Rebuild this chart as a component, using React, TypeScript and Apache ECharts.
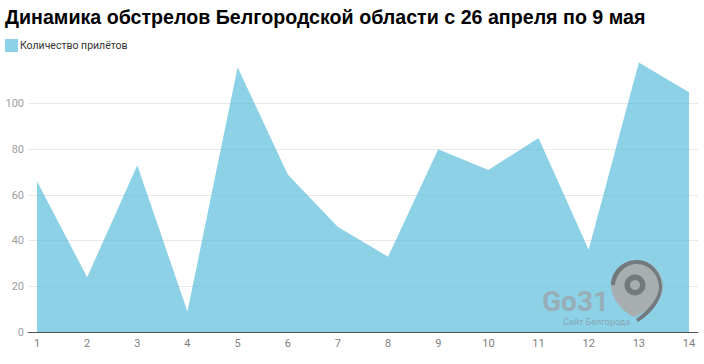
import React, { useEffect, useRef } from "react";
import * as echarts from "echarts";

const titleText = "Динамика обстрелов Белгородской области с 26 апреля по 9 мая";
const seriesName = "Количество прилётов";
const days = ["1", "2", "3", "4", "5", "6", "7", "8", "9", "10", "11", "12", "13", "14"];
const strikes = [66, 24, 73, 9, 116, 69, 46, 33, 80, 71, 85, 36, 118, 105];
const watermarkMain = "Go31";
const watermarkSub = "Сайт Белгорода";

const pinBody =
  "M 26 0 C 40 0 52 12 52 27 C 52 37 44 46 24 57 C 14 54 0 40 0 25 C 0 11 12 0 26 0 Z";
const pinArc =
  "M 0 25 C 0 11 12 0 26 0 C 40 0 51 13 51 27 C 51 38 43 52 27 62 L 25 59 C 39 49 48 37 48 27 C 48 15 38 4 26 4 C 14 4 5 14 4 25 Z";

export default function App() {
  const ref = useRef<HTMLDivElement>(null);
  useEffect(() => {
    echarts.graphic.registerShape("pinBody", (echarts.graphic as any).extendPath(pinBody, {}));
    echarts.graphic.registerShape("pinArc", (echarts.graphic as any).extendPath(pinArc, {}));
    const chart = echarts.init(ref.current!, null, { renderer: "svg" });
    chart.setOption({
      animation: false,
      backgroundColor: "#ffffff",
      title: {
        text: titleText,
        left: 0,
        top: 2,
        textStyle: { fontFamily: "Liberation Sans", fontWeight: "bold", fontSize: 19.65, color: "#000000" },
      },
      legend: {
        left: 5,
        top: 39,
        padding: 0,
        itemWidth: 13,
        itemHeight: 13,
        itemGap: 4,
        data: [{ name: seriesName, icon: "rect", itemStyle: { color: "#8CD1E8" } }],
        textStyle: { fontFamily: "Roboto", fontSize: 10.5, color: "#333333", padding: [0, 0, 0, -3] },
      },
      grid: [
        { left: 37, right: 15, top: 58, bottom: 32 },
        { left: 28, right: 6, top: 58, bottom: 32 },
      ],
      xAxis: [
        {
          type: "category",
          gridIndex: 0,
          data: days,
          boundaryGap: false,
          axisLine: { show: false },
          axisTick: { show: false },
          axisLabel: { color: "#808080", fontFamily: "Roboto", fontSize: 11, margin: 6, interval: 0 },
        },
        {
          type: "category",
          gridIndex: 1,
          data: days,
          z: 5,
          axisLine: { lineStyle: { color: "#555555", width: 1 } },
          axisTick: { show: false },
          axisLabel: { show: false },
        },
      ],
      yAxis: [
        {
          type: "value",
          gridIndex: 0,
          min: 0,
          max: 120,
          interval: 20,
          axisLine: { show: false },
          axisTick: { show: false },
          axisLabel: { show: false },
          splitLine: { show: false },
        },
        {
          type: "value",
          gridIndex: 1,
          min: 0,
          max: 120,
          interval: 20,
          axisLine: { show: false },
          axisTick: { show: false },
          axisLabel: {
            color: "#9e9e9e",
            fontFamily: "Roboto",
            fontSize: 11,
            margin: 4,
            showMaxLabel: false,
          },
          splitLine: { lineStyle: { color: "#e8e8e8", width: 1 }, showMaxLine: false },
        },
      ],
      series: [
        {
          name: seriesName,
          type: "line",
          xAxisIndex: 0,
          yAxisIndex: 0,
          data: strikes,
          showSymbol: false,
          symbol: "none",
          lineStyle: { width: 0 },
          itemStyle: { color: "#8CD1E8" },
          areaStyle: { color: "#5DBEDD", opacity: 0.7 },
        },
      ],
      graphic: [
        { type: "text", x: 542, y: 290, z: 10, style: { text: watermarkMain, fontFamily: "Roboto", fontWeight: "bold", fontSize: 28, lineHeight: 22, fill: "rgba(155,165,170,0.8)" } },
        { type: "text", x: 563, y: 317, z: 10, style: { text: watermarkSub, fontFamily: "Roboto", fontSize: 9, lineHeight: 9, fill: "rgba(130,145,155,0.7)" } },
        { type: "pinBody", x: 611, y: 260, z: 9, style: { fill: "rgba(170,172,172,0.95)" } },
        { type: "pinArc", x: 611, y: 260, z: 10, style: { fill: "#737a7d" } },
        { type: "ring", z: 11, shape: { cx: 635, cy: 285, r: 10.5, r0: 5 }, style: { fill: "#737a7d" } },
      ],
    });
    return () => chart.dispose();
  }, []);
  return <div ref={ref} style={{ width: 704, height: 364, position: "fixed", left: 0, top: 0 }} />;
}
